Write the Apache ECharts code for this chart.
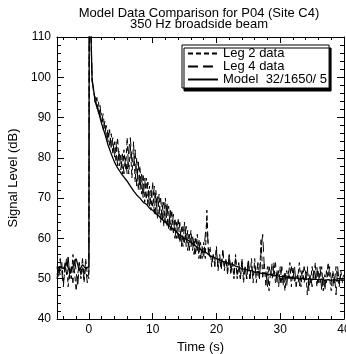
<!DOCTYPE html>
<html>
<head>
<meta charset="utf-8">
<script src="https://cdn.jsdelivr.net/npm/echarts@6/dist/echarts.min.js"></script>
<style>
html,body{margin:0;padding:0;background:#fff;}
#main{width:346px;height:354px;}
</style>
</head>
<body>
<div id="main"></div>
<script>
// time (s) for the two measured legs, 0.25 s steps
var legTimes = [-5,-4.75,-4.5,-4.25, -4,-3.75,-3.5,-3.25, -3,-2.75,-2.5,-2.25, -2,-1.75,-1.5,-1.25, -1,-0.75,-0.5,-0.25,
	0,0.05,0.25,
	0.5,0.75,
	1,1.25,1.5,1.75, 2,2.25,2.5,2.75, 3,3.25,3.5,3.75, 4,4.25,4.5,4.75, 5,5.25,5.5,5.75,
	6,6.25,6.5,6.75, 7,7.25,7.5,7.75, 8,8.25,8.5,8.75, 9,9.25,9.5,9.75, 10,10.25,10.5,10.75,
	11,11.25,11.5,11.75, 12,12.25,12.5,12.75, 13,13.25,13.5,13.75, 14,14.25,14.5,14.75, 15,15.25,15.5,15.75,
	16,16.25,16.5,16.75, 17,17.25,17.5,17.75, 18,18.25,18.5,18.75, 19,19.25,19.5,19.75, 20,20.25,20.5,20.75,
	21,21.25,21.5,21.75, 22,22.25,22.5,22.75, 23,23.25,23.5,23.75, 24,24.25,24.5,24.75, 25,25.25,25.5,25.75,
	26,26.25,26.5,26.75, 27,27.25,27.5,27.75, 28,28.25,28.5,28.75, 29,29.25,29.5,29.75, 30,30.25,30.5,30.75,
	31,31.25,31.5,31.75, 32,32.25,32.5,32.75, 33,33.25,33.5,33.75, 34,34.25,34.5,34.75, 35,35.25,35.5,35.75,
	36,36.25,36.5,36.75, 37,37.25,37.5,37.75, 38,38.25,38.5,38.75, 39,39.25,39.5,39.75,
	40];

// Leg 2 data (dB)
var leg2 = [50,53,51,54, 49,52,55,48, 53,50,56,52, 47,51,54,50, 53,49,55,51,
	50,118,116,
	100,96,
	95,92,94,90, 91,87,89,85, 87,83,86,81, 84,79,85,78, 81,76,82,77,
	85,76,83,75, 84,74,80,72, 78,71,76,69, 75,68,73,67, 74,66,72,65,
	71,64,69,63, 70,63,68,62, 67,61,65,60, 65,59,63,58, 64,58,62,57,
	62,57,60,56, 61,55,59,55, 59,55,67,56, 58,53,56,54, 58,52,56,53,
	57,52,55,51, 56,51,54,50, 56,50,53,50, 55,49,53,50, 54,50,55,49,
	55,49,53,50, 60,50,54,48, 53,47,52,50, 54,49,52,48, 53,49,51,47,
	52,50,54,48, 53,49,51,50, 54,48,52,49, 52,46,51,49, 53,50,54,48,
	52,49,53,47, 51,49,54,50, 47,52,49,53, 50,48,52,49,
	50];

// Leg 4 data (dB)
var leg4 = [53,50,55,52, 48,54,51,56, 50,53,49,55, 52,48,54,51, 55,50,53,49,
	52,118,116,
	99,97,
	93,95,91,93, 89,91,86,88, 84,87,82,85, 80,84,78,82, 77,81,76,80,
	76,82,85,79, 78,82,73,79, 72,76,70,75, 70,74,68,72, 68,73,66,71,
	66,70,64,69, 64,69,62,67, 62,66,60,64, 60,64,58,63, 59,63,57,61,
	58,61,56,60, 57,60,55,58, 55,61,64,57, 57,54,56,53, 57,53,55,52,
	57,53,55,52, 56,52,54,51, 55,51,54,50, 54,51,53,50, 55,50,53,51,
	53,51,54,50, 57,61,53,52, 48,53,51,54, 51,54,49,52, 49,53,48,52,
	48,52,50,53, 50,53,48,51, 48,52,50,53, 50,53,47,51, 48,52,50,53,
	49,53,47,51, 47,52,50,53, 50,48,51,46, 53,49,51,50,
	51];

// time (s) for the model, 0.5 s steps
var modelTimes = [-5,-4.5,-4,-3.5,-3,-2.5,-2,-1.5,-1,-0.5,0,0.05,0.25,
	0.5,1,1.5,2,2.5,3,3.5,4,4.5,5,
	5.5,6,6.5,7,7.5,8,8.5,9,9.5,10,
	10.5,11,11.5,12,12.5,13,13.5,14,14.5,15,
	15.5,16,16.5,17,17.5,18,18.5,19,19.5,20,
	20.5,21,21.5,22,22.5,23,23.5,24,24.5,25,
	25.5,26,26.5,27,27.5,28,28.5,29,29.5,30,
	30.5,31,31.5,32,32.5,33,33.5,34,34.5,35,
	35.5,36,36.5,37,37.5,38,38.5,39,39.5,40];

// Model 32/1650/ 5 (dB)
var model = [51,53,52.5,54,51.5,53,55,52,53.5,52.5,53,118,116,
	99.5,94,91.5,88.5,86,83.2,81,79,77.5,76.3,
	75.2,74.2,73,71.8,70.8,70,69,68.5,67.5,67,
	66.2,65.5,64.7,64,63.2,62.5,62.1,61.1,60.6,60,
	59.6,59,58.4,57.8,57.3,56.6,56.4,55.6,55.4,55,
	54.7,54.3,54.1,53.7,53.6,53.1,52.9,52.4,52.4,52,
	52,51.6,51.7,51.3,51.4,51,51.1,50.7,50.8,50.5,
	50.6,50.3,50.4,50.1,50.2,49.9,50.1,49.8,50,49.8,
	49.9,49.7,49.9,49.6,49.8,49.6,49.8,49.5,49.7,49.6];

var xLabels = [0,10,20,30,40];
var xMajor = [0,10,20,30,40];
var xMinor = [-4,-2,2,4,6,8,12,14,16,18,22,24,26,28,32,34,36,38];

var seriesNames = ['Leg 2 data','Leg 4 data','Model  32/1650/ 5'];

var FONT = "'Liberation Sans', Arial, sans-serif";

function pairs(ts, vals){
	return ts.map(function(t,i){ return [t, vals[i]]; });
}

function xAxisDef(pos, ticks, len, showLine, showLabel){
	return {
		type:'value', position:pos, min:-5, max:40,
		axisLine:{show:showLine, onZero:false, lineStyle:{color:'#000', width:1}},
		axisTick:{show:true, inside:true, length:len, customValues:ticks, lineStyle:{color:'#000'}},
		axisLabel:{show:showLabel, customValues:xLabels, margin:5, color:'#000', fontSize:12, fontFamily:FONT},
		splitLine:{show:false}
	};
}

function yAxisDef(pos, showLabel){
	return {
		type:'value', position:pos, min:40, max:110, interval:10,
		axisLine:{show:true, onZero:false, lineStyle:{color:'#000', width:1}},
		axisTick:{show:true, inside:true, length:7, lineStyle:{color:'#000'}},
		minorTick:{show:true, splitNumber:5, length:4, lineStyle:{color:'#000'}},
		axisLabel:{show:showLabel, margin:6, color:'#000', fontSize:12, fontFamily:FONT},
		splitLine:{show:false},
		minorSplitLine:{show:false}
	};
}

var chart = echarts.init(document.getElementById('main'));

var xBottom = xAxisDef('bottom', xMajor, 6, true, true);
xBottom.name = 'Time (s)';
xBottom.nameLocation = 'middle';
xBottom.nameGap = 22;
xBottom.nameTextStyle = {color:'#000', fontSize:13, fontFamily:FONT};

var yLeft = yAxisDef('left', true);
yLeft.name = 'Signal Level (dB)';
yLeft.nameLocation = 'middle';
yLeft.nameGap = 27;
yLeft.nameTextStyle = {color:'#000', fontSize:13, fontFamily:FONT};

var option = {
	animation:false,
	backgroundColor:'#fff',
	grid:{left:57, right:2, top:37, bottom:35, containLabel:false, outerBoundsMode:'none'},
	graphic:[
		{type:'text', x:199, y:13, style:{text:'Model Data Comparison for P04 (Site C4)', fill:'#000', font:'13px ' + FONT, textAlign:'center', textVerticalAlign:'middle'}},
		{type:'text', x:199, y:24, style:{text:'350 Hz broadside beam', fill:'#000', font:'13px ' + FONT, textAlign:'center', textVerticalAlign:'middle'}}
	],
	legend:{
		orient:'vertical', left:182, top:45,
		itemGap:0, itemWidth:30, itemHeight:11,
		padding:[2,2,2,5],
		backgroundColor:'#fff', borderColor:'#000', borderWidth:1,
		shadowColor:'#000', shadowBlur:0, shadowOffsetX:2, shadowOffsetY:3,
		itemStyle:{opacity:0},
		textStyle:{color:'#000', fontSize:13, lineHeight:11, fontFamily:FONT},
		data:seriesNames
	},
	xAxis:[
		xBottom,
		xAxisDef('bottom', xMinor, 3, false, false),
		xAxisDef('top', xMajor, 6, true, false),
		xAxisDef('top', xMinor, 3, false, false)
	],
	yAxis:[
		yLeft,
		yAxisDef('right', false)
	],
	series:[
		{name:seriesNames[0], type:'line', data:pairs(legTimes, leg2), symbol:'none', clip:true,
			itemStyle:{color:'#000'}, lineStyle:{color:'#000', width:1, type:[5,3]}},
		{name:seriesNames[1], type:'line', data:pairs(legTimes, leg4), symbol:'none', clip:true,
			itemStyle:{color:'#000'}, lineStyle:{color:'#000', width:1, type:[10,5]}},
		{name:seriesNames[2], type:'line', data:pairs(modelTimes, model), symbol:'none', clip:true,
			itemStyle:{color:'#000'}, lineStyle:{color:'#000', width:1.3, type:'solid'}}
	]
};

chart.setOption(option);
</script>
</body>
</html>
